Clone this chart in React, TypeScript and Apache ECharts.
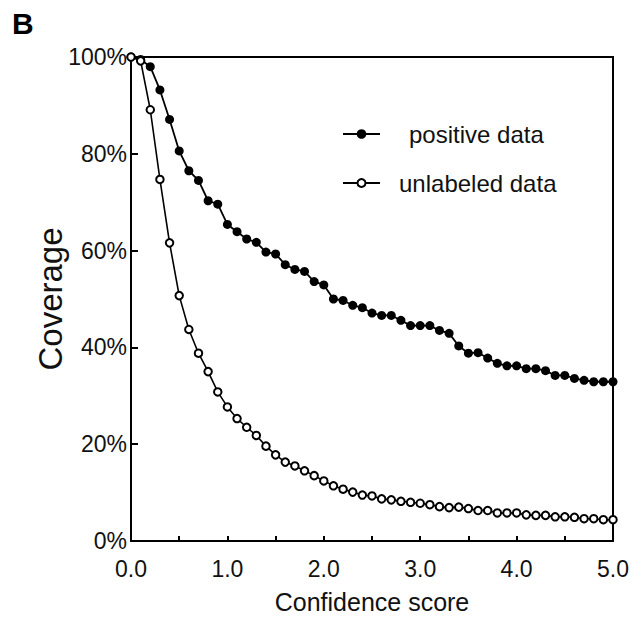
import React, { useEffect, useRef } from "react";
import * as echarts from "echarts";

const scores = [
  0.0, 0.1, 0.2, 0.3, 0.4, 0.5, 0.6, 0.7, 0.8, 0.9,
  1.0, 1.1, 1.2, 1.3, 1.4, 1.5, 1.6, 1.7, 1.8, 1.9,
  2.0, 2.1, 2.2, 2.3, 2.4, 2.5, 2.6, 2.7, 2.8, 2.9,
  3.0, 3.1, 3.2, 3.3, 3.4, 3.5, 3.6, 3.7, 3.8, 3.9,
  4.0, 4.1, 4.2, 4.3, 4.4, 4.5, 4.6, 4.7, 4.8, 4.9,
  5.0,
];

const positiveData = [
  100, 99.5, 98.0, 93.2, 87.1, 80.6, 76.5, 74.5, 70.3, 69.6,
  65.4, 63.9, 62.4, 61.7, 59.7, 59.3, 57.1, 56.1, 55.7, 53.6,
  52.9, 50.0, 49.7, 48.7, 48.2, 47.1, 46.6, 46.6, 45.6, 44.5,
  44.5, 44.5, 43.5, 42.9, 40.3, 38.8, 38.9, 37.8, 36.7, 36.2,
  36.2, 35.6, 35.6, 35.2, 34.2, 34.2, 33.6, 33.2, 32.9, 32.9,
  32.9,
];

const unlabeledData = [
  100, 99.2, 89.1, 74.7, 61.6, 50.7, 43.7, 38.8, 35.0, 30.8,
  27.7, 25.3, 23.5, 21.8, 19.6, 17.8, 16.3, 15.5, 14.5, 13.5,
  12.4, 11.4, 10.7, 10.1, 9.5, 9.3, 8.7, 8.5, 8.2, 8.0,
  7.8, 7.5, 7.1, 6.9, 7.0, 6.7, 6.3, 6.3, 5.8, 5.8,
  5.8, 5.4, 5.3, 5.3, 5.0, 5.0, 4.9, 4.6, 4.6, 4.4,
  4.4,
];

const seriesNames = ["positive data", "unlabeled data"];
const panelLabel = "B";
const xAxisTitle = "Confidence score";
const yAxisTitle = "Coverage";

const FONT = "'Liberation Sans', Arial, Helvetica, sans-serif";

export default function App() {
  const ref = useRef<HTMLDivElement>(null);

  useEffect(() => {
    if (!ref.current) return;
    const chart = echarts.init(ref.current, null, { renderer: "svg" });
    const pos = scores.map((s, i) => [s, positiveData[i]]);
    const unl = scores.map((s, i) => [s, unlabeledData[i]]);
    chart.setOption({
      animation: false,
      backgroundColor: "#fff",
      textStyle: { fontFamily: FONT, color: "#111" },
      grid: {
        left: 131,
        right: 22,
        top: 57,
        bottom: 73,
        show: true,
        borderColor: "#000",
        borderWidth: 2,
      },
      graphic: [
        {
          type: "text",
          left: 12,
          top: 8,
          style: {
            text: panelLabel,
            fontFamily: FONT,
            fontWeight: "bold",
            fontSize: 30,
            fill: "#000",
          },
        },
      ],
      legend: [
        {
          data: [seriesNames[0]],
          orient: "vertical",
          left: 337,
          top: 117,
          itemWidth: 37,
          itemHeight: 12,
          textStyle: {
            fontFamily: FONT,
            fontSize: 24,
            color: "#111",
            padding: [0, 0, 0, 24],
          },
        },
        {
          data: [seriesNames[1]],
          orient: "vertical",
          left: 337,
          top: 166,
          itemWidth: 37,
          itemHeight: 10,
          textStyle: {
            fontFamily: FONT,
            fontSize: 24,
            color: "#111",
            padding: [0, 0, 0, 14],
          },
        },
      ],
      xAxis: {
        type: "value",
        min: 0,
        max: 5,
        interval: 0.5,
        name: xAxisTitle,
        nameLocation: "middle",
        nameGap: 48,
        nameMoveOverlap: false,
        nameTextStyle: { fontFamily: FONT, fontSize: 25, color: "#111" },
        axisLine: { show: true, lineStyle: { color: "#000", width: 2 } },
        axisTick: {
          show: true,
          inside: true,
          length: 5,
          lineStyle: { color: "#000", width: 2 },
        },
        splitLine: { show: false },
        axisLabel: {
          margin: 16,
          fontFamily: FONT,
          fontSize: 23,
          color: "#111",
          formatter: (v: number) =>
            Math.abs(v - Math.round(v)) < 1e-6 ? v.toFixed(1) : "",
        },
      },
      yAxis: {
        type: "value",
        min: 0,
        max: 100,
        interval: 20,
        name: yAxisTitle,
        nameLocation: "middle",
        nameRotate: 90,
        nameGap: 64,
        nameMoveOverlap: false,
        nameTextStyle: { fontFamily: FONT, fontSize: 33, color: "#111" },
        axisLine: { show: true, lineStyle: { color: "#000", width: 2 } },
        axisTick: {
          show: true,
          inside: true,
          length: 7,
          lineStyle: { color: "#000", width: 2 },
        },
        splitLine: { show: false },
        axisLabel: {
          margin: 4,
          fontFamily: FONT,
          fontSize: 23,
          color: "#111",
          formatter: "{value}%",
        },
      },
      series: [
        {
          name: seriesNames[0],
          type: "line",
          data: pos,
          symbol: "circle",
          symbolSize: 9,
          showAllSymbol: true,
          lineStyle: { color: "#000", width: 1.8 },
          itemStyle: { color: "#000" },
          z: 2,
        },
        {
          name: seriesNames[1],
          type: "line",
          data: unl,
          symbol: "emptyCircle",
          symbolSize: 7.5,
          showAllSymbol: true,
          lineStyle: { color: "#000", width: 1.6 },
          itemStyle: { color: "#000", borderColor: "#000", borderWidth: 1.6 },
          z: 3,
        },
      ],
    });
    return () => chart.dispose();
  }, []);

  return (
    <div
      ref={ref}
      style={{ position: "absolute", left: 0, top: 0, width: 635, height: 619 }}
    />
  );
}
